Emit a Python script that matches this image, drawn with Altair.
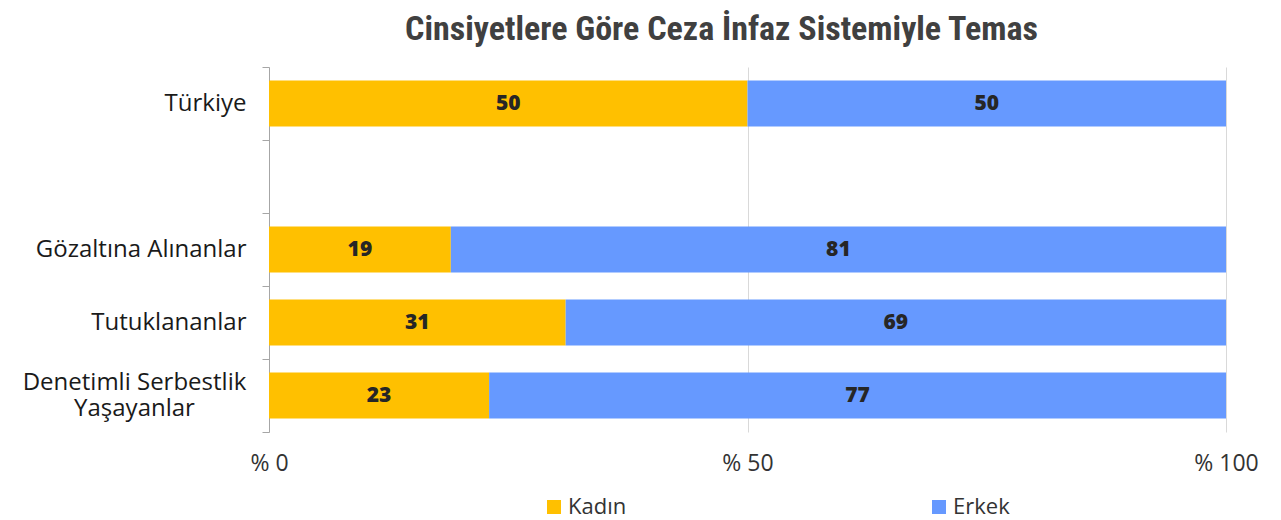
import altair as alt
import pandas as pd

categories = ["Türkiye", "Gözaltına Alınanlar", "Tutuklananlar", "Denetimli Serbestlik Yaşayanlar"]
kadin = [50, 19, 31, 23]
erkek = [50, 81, 69, 77]
series = ["Kadın", "Erkek"]
colors = ["#FFC000", "#6699FF"]
y_domain = ["Türkiye", " ", "Gözaltına Alınanlar", "Tutuklananlar", "Denetimli Serbestlik Yaşayanlar"]
x_ticks = [0, 50, 100]

rows = []
for c, k, e in zip(categories, kadin, erkek):
    rows.append({"cat": c, "series": series[0], "value": k, "order": 0})
    rows.append({"cat": c, "series": series[1], "value": e, "order": 1})
df = pd.DataFrame(rows)

TFONT = "Roboto Condensed, Liberation Sans Narrow, sans-serif"
FONT = "Open Sans, sans-serif"
LONG = "Denetimli Serbestlik Yaşayanlar"
IS_LONG = f"datum.value == '{LONG}'"

base = alt.Chart(df).transform_stack(
    stack="value", groupby=["cat"], as_=["x0", "x1"], sort=[alt.SortField("order")]
).transform_calculate(mid="(datum.x0 + datum.x1) / 2")

yscale = alt.Scale(domain=y_domain, paddingInner=0, paddingOuter=0)

yenc = alt.Y(
    "cat:N",
    scale=yscale,
    axis=alt.Axis(
        title=None,
        tickBand="extent",
        tickSize=7,
        tickColor="#a6a6a6",
        domainColor="#a6a6a6",
        labelFontSize=24,
        labelFont=FONT,
        labelColor="#1a1a1a",
        labelPadding={"condition": {"test": IS_LONG, "value": 128}, "value": 16},
        labelAlign={"condition": {"test": IS_LONG, "value": "center"}, "value": "right"},
        labelOffset={"condition": {"test": IS_LONG, "value": -13}, "value": 0},
        labelLineHeight=26,
        labelLimit=300,
        minExtent=256,
        maxExtent=256,
        labelExpr=f"datum.label == '{LONG}' ? ['Denetimli Serbestlik', 'Yaşayanlar'] : datum.label",
    ),
)

bars = base.mark_bar(height=alt.RelativeBandSize(band=0.63)).encode(
    y=yenc,
    x=alt.X(
        "x0:Q",
        scale=alt.Scale(domain=[0, 100]),
        axis=alt.Axis(
            title=None,
            values=x_ticks,
            labelExpr="'% ' + datum.value",
            grid=True,
            gridColor="#d9d9d9",
            domain=False,
            ticks=False,
            labelFontSize=23,
            labelFont=FONT,
            labelColor="#333333",
            labelPadding=20,
            labelFlush=False,
        ),
    ),
    x2="x1:Q",
    color=alt.Color(
        "series:N",
        scale=alt.Scale(domain=series, range=colors),
        legend=alt.Legend(
            title=None,
            orient="none",
            direction="horizontal",
            legendX=274,
            legendY=429,
            symbolType="square",
            symbolSize=196,
            symbolStrokeWidth=0,
            labelFontSize=22,
            labelFont=FONT,
            labelColor="#333333",
            columnPadding=301,
            labelOffset=3,
        ),
    ),
)

texts = base.mark_text(
    font=FONT, fontWeight=800, fontSize=21, color="#262626"
).encode(
    y=alt.Y("cat:N", scale=yscale),
    x=alt.X("mid:Q"),
    text=alt.Text("value:Q"),
)

chart = (
    alt.layer(bars, texts)
    .properties(
        width=957,
        height=365,
        title=alt.TitleParams(
            "Cinsiyetlere Göre Ceza İnfaz Sistemiyle Temas",
            font=TFONT,
            fontSize=34,
            fontWeight="bold",
            color="#404040",
            anchor="middle",
            dx=-26,
            offset=8,
        ),
    )
    .configure_view(stroke=None)
)

chart.save("out.html", embed_options={"renderer": "svg", "actions": False})
